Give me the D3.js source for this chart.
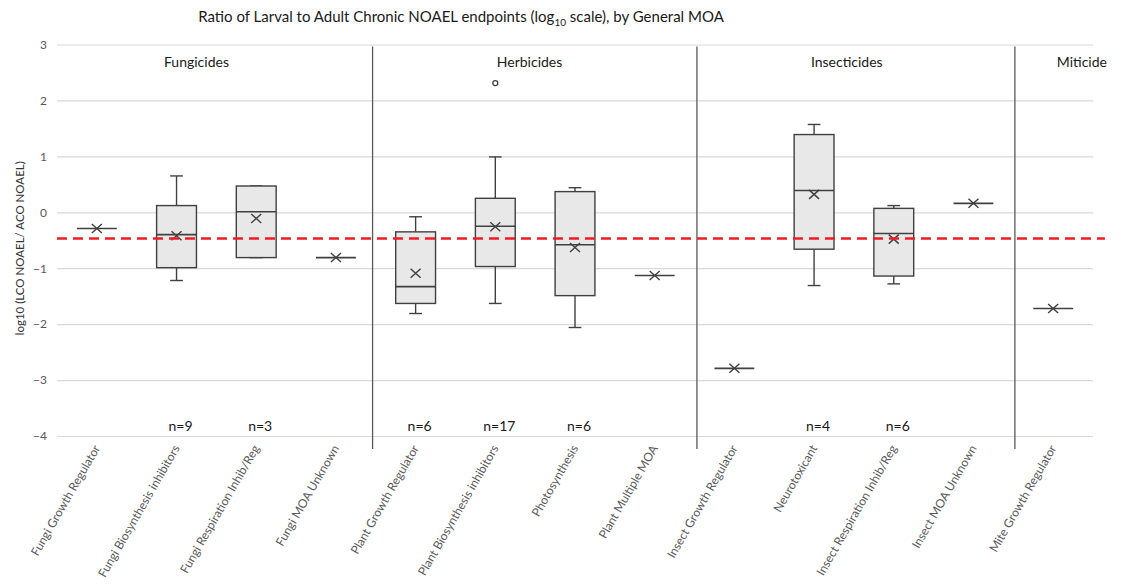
<!DOCTYPE html>
<html><head><meta charset="utf-8">
<script src="https://cdn.jsdelivr.net/npm/d3@7"></script>
<style>
body{margin:0;background:#fff}
text{font-family:Lato,"Open Sans",sans-serif}
</style>
</head><body>
<svg id="chart" width="1125" height="588"></svg>
<script>
// ---------- data ----------
const categories = [
  "Fungi Growth Regulator","Fungi Biosynthesis inhibitors","Fungi Respiration Inhib/Reg","Fungi MOA Unknown",
  "Plant Growth Regulator","Plant Biosynthesis inhibitors","Photosynthesis","Plant Multiple MOA",
  "Insect Growth Regulator","Neurotoxicant","Insect Respiration Inhib/Reg","Insect MOA Unknown",
  "Mite Growth Regulator"
];
const whiskerLow  = [null,-1.22,-0.81,null,-1.81,-1.63,-2.06,null,null,-1.31,-1.28,null,null];
const q1          = [-0.29,-0.99,-0.81,-0.81,-1.63,-0.97,-1.49,-1.13,-2.79,-0.66,-1.14,0.16,-1.72];
const median      = [-0.29,-0.40,0.01,-0.81,-1.33,-0.25,-0.58,-1.13,-2.79,0.39,-0.38,0.16,-1.72];
const q3          = [-0.29,0.12,0.47,-0.81,-0.35,0.25,0.37,-1.13,-2.79,1.39,0.07,0.16,-1.72];
const whiskerHigh = [null,0.65,0.47,null,-0.08,0.99,0.44,null,null,1.57,0.12,null,null];
const mean        = [-0.29,-0.42,-0.11,-0.81,-1.09,-0.26,-0.63,-1.13,-2.79,0.32,-0.48,0.16,-1.72];
const outliers    = [[],[],[],[],[],[2.31],[],[],[],[],[],[],[]];
const nLabels     = ["","n=9","n=3","","n=6","n=17","n=6","","","n=4","n=6","",""];
const yTicks = [3,2,1,0,-1,-2,-3,-4];
const referenceValue = -0.47;
const groupNames = ["Fungicides","Herbicides","Insecticides","Miticide"];
const groupLabelAt = [1.75,5.93,9.91,12.86];   // in category units
const separatorsAt = [3.96,8.03,12.02];         // in category units

// ---------- layout ----------
const L=57, R=1093, T=44.5, B=436;
const svg = d3.select("#chart");
const x = d3.scaleBand().domain(categories).range([L,R]);
const xu = d3.scaleLinear().domain([0,categories.length]).range([L,R]);
const y = d3.scaleLinear().domain([-4,3]).range([B,T]);
const bw = x.bandwidth()*0.5, cw = x.bandwidth()*0.16;
const cx = i => x(categories[i]) + x.bandwidth()/2;
const ink = "#404040";

// gridlines
const grid = svg.append("g").attr("transform",`translate(${L},0)`)
  .call(d3.axisLeft(y).tickValues(yTicks).tickSize(-(R-L)).tickFormat(""));
grid.select(".domain").remove();
grid.selectAll("line").attr("stroke","#d9d9d9").attr("stroke-width",1.2);

// y tick labels
const ya = svg.append("g").attr("transform",`translate(${L},0)`)
  .call(d3.axisLeft(y).tickValues(yTicks).tickSize(0).tickPadding(10).tickFormat(d3.format("d")));
ya.select(".domain").remove();
ya.selectAll("text").attr("fill","#595959").style("font-size","12px").style("font-family","Lato,sans-serif");

// y title
svg.append("text").attr("transform",`translate(20,${(T+B)/2 + 8}) rotate(-90)`)
  .attr("text-anchor","middle").attr("dy","0.35em").attr("fill","#333")
  .style("font-size","11.5px").text("log10 (LCO NOAEL/ ACO NOAEL)");

// title
const title = svg.append("text").attr("x",461).attr("y",22).attr("text-anchor","middle")
  .attr("fill","#1a1a1a").style("font-size","15px");
title.append("tspan").text("Ratio of Larval to Adult Chronic NOAEL endpoints (log");
title.append("tspan").attr("dy",4).style("font-size","10px").text("10");
title.append("tspan").attr("dy",-4).text(" scale), by General MOA");

// x axis labels
const xa = svg.append("g").attr("transform",`translate(0,${B+10})`)
  .call(d3.axisBottom(x).tickSize(0).tickPadding(0));
xa.select(".domain").remove();
xa.selectAll("text").attr("fill","#595959").style("font-size","12px").style("font-family","Lato,sans-serif")
  .attr("text-anchor","end").attr("dy","0.35em").attr("y",0)
  .attr("transform","rotate(-60)");

// separators
svg.append("g").selectAll("line").data(separatorsAt).join("line")
  .attr("x1",d=>xu(d)).attr("x2",d=>xu(d)).attr("y1",T+2).attr("y2",B+13)
  .attr("stroke","#595959").attr("stroke-width",1.3);

// group labels
svg.append("g").selectAll("text").data(groupNames).join("text")
  .attr("x",(d,i)=>xu(groupLabelAt[i])).attr("y",62).attr("dy","0.35em")
  .attr("text-anchor","middle").attr("fill","#1a1a1a").style("font-size","14px").text(d=>d);

// boxes
const g = svg.append("g");
categories.forEach((c,i)=>{
  const X = cx(i);
  if (whiskerHigh[i]!==null){
    g.append("line").attr("x1",X).attr("x2",X).attr("y1",y(q3[i])).attr("y2",y(whiskerHigh[i])).attr("stroke",ink).attr("stroke-width",1.4);
    g.append("line").attr("x1",X).attr("x2",X).attr("y1",y(q1[i])).attr("y2",y(whiskerLow[i])).attr("stroke",ink).attr("stroke-width",1.4);
    g.append("line").attr("x1",X-cw/2).attr("x2",X+cw/2).attr("y1",y(whiskerHigh[i])).attr("y2",y(whiskerHigh[i])).attr("stroke",ink).attr("stroke-width",1.4);
    g.append("line").attr("x1",X-cw/2).attr("x2",X+cw/2).attr("y1",y(whiskerLow[i])).attr("y2",y(whiskerLow[i])).attr("stroke",ink).attr("stroke-width",1.4);
  }
  if (q3[i]!==q1[i]){
    g.append("rect").attr("x",X-bw/2).attr("width",bw).attr("y",y(q3[i])).attr("height",y(q1[i])-y(q3[i]))
      .attr("fill","#e8e8e8").attr("stroke",ink).attr("stroke-width",1.4);
  }
  g.append("line").attr("x1",X-bw/2).attr("x2",X+bw/2).attr("y1",y(median[i])).attr("y2",y(median[i])).attr("stroke",ink).attr("stroke-width",1.6);
  const my = y(mean[i]);
  g.append("path").attr("d",`M${X-5},${my-4.5}L${X+5},${my+4.5}M${X-5},${my+4.5}L${X+5},${my-4.5}`)
    .attr("stroke",ink).attr("stroke-width",1.4).attr("fill","none");
  outliers[i].forEach(o=>{
    g.append("circle").attr("cx",X).attr("cy",y(o)).attr("r",2.5).attr("fill","#fff").attr("stroke",ink).attr("stroke-width",1.3);
  });
});

// n labels
svg.append("g").selectAll("text").data(nLabels).join("text")
  .attr("x",(d,i)=>cx(i)+4).attr("y",426).attr("dy","0.35em").attr("text-anchor","middle")
  .attr("fill","#1a1a1a").style("font-size","14px").text(d=>d);

// reference line
svg.append("line").attr("x1",xu(0)).attr("x2",xu(13.15)).attr("y1",y(referenceValue)).attr("y2",y(referenceValue))
  .attr("stroke","#ee1c25").attr("stroke-width",2.5).attr("stroke-dasharray","10,6");
</script>
</body></html>
